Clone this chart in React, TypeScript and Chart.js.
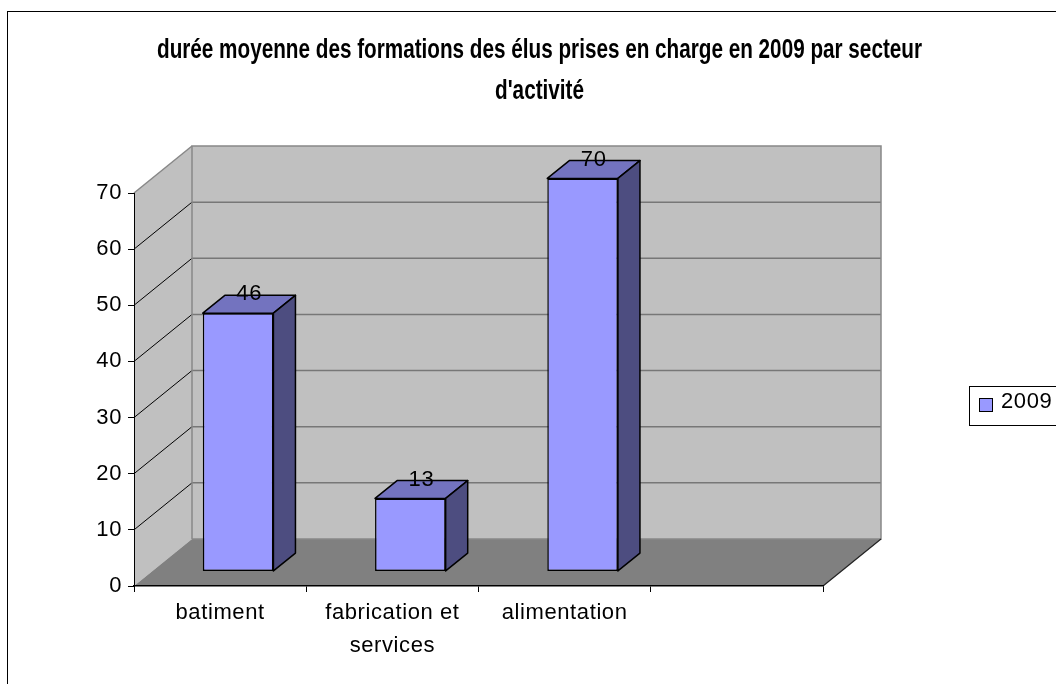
import React, { useEffect, useRef } from "react";
import { Chart, registerables } from "chart.js";

Chart.register(...registerables);

// ---- data ----
const categories: (string | string[])[] = ["batiment", ["fabrication et", "services"], "alimentation", ""];
const values2009: (number | null)[] = [46, 13, 70, null];
const seriesLabel = "2009";
const yTickValues = [0, 10, 20, 30, 40, 50, 60, 70];
const titleLines = [
  "durée moyenne des formations des élus prises en charge en 2009 par secteur",
  "d'activité",
];

// ---- styling / geometry ----
const W = 1120;
const H = 720;
const FONT = "'Liberation Sans', Arial, sans-serif";
const TEXT_SIZE = 22;
const SPACING = "0.6px";
const DX = 58; // depth offset (x)
const DY = -47; // depth offset (y)
const BAR_FRONT = 0.31;
const BAR_BACK = 0.69;
const FRONT_COLOR = "#9999FF";
const TOP_COLOR = "#7373BF";
const SIDE_COLOR = "#4D4D80";

function poly(ctx: CanvasRenderingContext2D, pts: number[][]) {
  ctx.beginPath();
  ctx.moveTo(pts[0][0], pts[0][1]);
  for (let i = 1; i < pts.length; i++) ctx.lineTo(pts[i][0], pts[i][1]);
  ctx.closePath();
}

function line(ctx: CanvasRenderingContext2D, x1: number, y1: number, x2: number, y2: number) {
  ctx.beginPath();
  ctx.moveTo(x1, y1);
  ctx.lineTo(x2, y2);
  ctx.stroke();
}

const scenePlugin = {
  id: "scene3d",
  beforeInit(chart: any) {
    (chart.ctx as any).letterSpacing = SPACING;
  },
  beforeLayout(chart: any) {
    (chart.ctx as any).letterSpacing = SPACING;
  },
  beforeDraw(chart: any) {
    const { ctx, chartArea } = chart;
    (ctx as any).letterSpacing = SPACING;
    const ys = chart.scales.y;
    const L = chartArea.left;
    const R = chartArea.right;
    const y0 = ys.getPixelForValue(0);
    const yTop = ys.getPixelForValue(ys.max);
    ctx.save();
    ctx.fillStyle = "#ffffff";
    ctx.fillRect(0, 0, chart.width, chart.height);
    // outer frame
    ctx.strokeStyle = "#000";
    ctx.lineWidth = 1;
    ctx.strokeRect(7.5, 11.5, chart.width + 20, chart.height + 20);

    // side wall
    ctx.fillStyle = "#C0C0C0";
    poly(ctx, [[L, y0], [L + DX, y0 + DY], [L + DX, yTop + DY], [L, yTop]]);
    ctx.fill();
    // back wall
    poly(ctx, [[L + DX, yTop + DY], [R + DX, yTop + DY], [R + DX, y0 + DY], [L + DX, y0 + DY]]);
    ctx.fill();
    // floor
    ctx.fillStyle = "#808080";
    poly(ctx, [[L, y0], [R, y0], [R + DX, y0 + DY], [L + DX, y0 + DY]]);
    ctx.fill();

    // gridlines
    for (const t of ys.ticks) {
      const v = t.value;
      if (v <= 0 || v >= ys.max) continue;
      const py = ys.getPixelForValue(v);
      ctx.strokeStyle = "#000";
      ctx.lineWidth = 1;
      line(ctx, L, py, L + DX, py + DY);
      ctx.strokeStyle = "#777";
      ctx.lineWidth = 1.5;
      line(ctx, L + DX, py + DY, R + DX, py + DY);
    }
    // wall borders
    ctx.strokeStyle = "#888";
    ctx.lineWidth = 1.5;
    line(ctx, L, yTop, L + DX, yTop + DY);
    ctx.beginPath();
    ctx.moveTo(L + DX, y0 + DY);
    ctx.lineTo(L + DX, yTop + DY);
    ctx.lineTo(R + DX, yTop + DY);
    ctx.lineTo(R + DX, y0 + DY);
    ctx.lineTo(L + DX, y0 + DY);
    ctx.stroke();
    // floor right edge
    ctx.strokeStyle = "#222";
    ctx.lineWidth = 1.2;
    line(ctx, R, y0, R + DX, y0 + DY);
    ctx.restore();
  },
  beforeDatasetsDraw(chart: any) {
    const ctx = chart.ctx;
    ctx.save();
    ctx.translate(BAR_FRONT * DX, BAR_FRONT * DY);
  },
  afterDatasetsDraw(chart: any) {
    const ctx = chart.ctx;
    const bdx = (BAR_BACK - BAR_FRONT) * DX;
    const bdy = (BAR_BACK - BAR_FRONT) * DY;
    const meta = chart.getDatasetMeta(0);
    const data = chart.data.datasets[0].data;
    meta.data.forEach((el: any, i: number) => {
      if (data[i] == null) return;
      const { x, y, base, width } = el.getProps(["x", "y", "base", "width"], true);
      const l = x - width / 2;
      const r = x + width / 2;
      ctx.lineWidth = 1.5;
      ctx.strokeStyle = "#000";
      ctx.lineJoin = "round";
      ctx.fillStyle = TOP_COLOR;
      poly(ctx, [[l, y], [r, y], [r + bdx, y + bdy], [l + bdx, y + bdy]]);
      ctx.fill();
      ctx.stroke();
      ctx.fillStyle = SIDE_COLOR;
      poly(ctx, [[r, y], [r + bdx, y + bdy], [r + bdx, base + bdy], [r, base]]);
      ctx.fill();
      ctx.stroke();
    });
    // value labels
    ctx.fillStyle = "#000";
    ctx.font = `${TEXT_SIZE}px ${FONT}`;
    ctx.textAlign = "center";
    ctx.textBaseline = "middle";
    meta.data.forEach((el: any, i: number) => {
      if (data[i] == null) return;
      const { x, y } = el.getProps(["x", "y"], true);
      ctx.fillText(String(data[i]), x + bdx / 2, y + bdy - 1);
    });
    ctx.restore();
  },
  afterDraw(chart: any) {
    const ctx = chart.ctx;
    ctx.save();
    // title
    (ctx as any).letterSpacing = "0px";
    ctx.fillStyle = "#000";
    ctx.font = `bold 28px ${FONT}`;
    ctx.textAlign = "center";
    ctx.textBaseline = "alphabetic";
    const w1 = ctx.measureText(titleLines[0]).width;
    const s = 765 / w1;
    const baselines = [58, 99];
    titleLines.forEach((t, i) => {
      ctx.save();
      ctx.translate(539.5, baselines[i]);
      ctx.scale(s, 1);
      ctx.fillText(t, 0, 0);
      ctx.restore();
    });
    // legend
    (ctx as any).letterSpacing = SPACING;
    const ds = chart.data.datasets[0];
    ctx.strokeStyle = "#000";
    ctx.lineWidth = 1;
    ctx.strokeRect(969.5, 386.5, 200, 39);
    ctx.fillStyle = ds.backgroundColor;
    ctx.fillRect(979.5, 398.5, 13, 13);
    ctx.strokeRect(979.5, 398.5, 13, 13);
    ctx.fillStyle = "#000";
    ctx.font = `${TEXT_SIZE}px ${FONT}`;
    ctx.textAlign = "left";
    ctx.fillText(ds.label, 1001, 408);
    ctx.restore();
  },
};

export default function App() {
  const ref = useRef<HTMLCanvasElement | null>(null);
  useEffect(() => {
    if (!ref.current) return;
    const chart = new Chart(ref.current, {
      type: "bar",
      data: {
        labels: categories,
        datasets: [
          {
            label: seriesLabel,
            data: values2009,
            backgroundColor: FRONT_COLOR,
            borderColor: "#000",
            borderWidth: 1.5,
            borderSkipped: false,
            barPercentage: 0.41,
            categoryPercentage: 1,
            clip: false,
          } as any,
        ],
      },
      options: {
        responsive: false,
        animation: false,
        events: [],
        layout: { padding: { left: 0, top: 193, right: W - 823, bottom: 0 } },
        plugins: {
          legend: { display: false },
          title: { display: false },
          tooltip: { enabled: false },
        },
        scales: {
          x: {
            offset: true,
            grid: {
              offset: true,
              drawOnChartArea: false,
              drawTicks: true,
              tickLength: 6,
              color: "#000",
              lineWidth: 1,
            },
            border: { display: true, color: "#000", width: 1.5 },
            ticks: {
              color: "#000",
              font: { family: FONT, size: TEXT_SIZE, lineHeight: 1.52 },
              padding: 4,
              maxRotation: 0,
              autoSkip: false,
            },
            afterFit: (s: any) => {
              s.height = H - 586;
            },
          },
          y: {
            min: 0,
            max: 70,
            afterBuildTicks: (s: any) => {
              s.ticks = yTickValues.map((v) => ({ value: v }));
            },
            grid: {
              drawOnChartArea: false,
              drawTicks: true,
              tickLength: 6,
              color: "#000",
              lineWidth: 1,
            },
            border: { display: true, color: "#000", width: 1 },
            ticks: {
              color: "#000",
              font: { family: FONT, size: TEXT_SIZE },
              padding: 6,
            },
            afterFit: (s: any) => {
              s.width = 134;
            },
          },
        },
      } as any,
      plugins: [scenePlugin],
    });
    return () => chart.destroy();
  }, []);
  return (
    <div
      style={{
        position: "fixed",
        left: 0,
        top: 0,
        width: 1056,
        height: 684,
        overflow: "hidden",
        background: "#fff",
      }}
    >
      <canvas ref={ref} width={W} height={H} style={{ display: "block", width: W, height: H }} />
    </div>
  );
}
